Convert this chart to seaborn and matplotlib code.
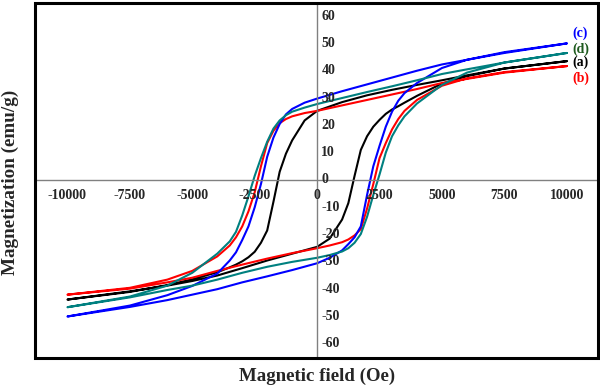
import pandas as pd
import matplotlib
matplotlib.use('Agg')
import matplotlib.pyplot as plt
import seaborn as sns
from matplotlib.patches import Rectangle

# Field values (Oe) for the descending and ascending branches
h_down = [10000, 7500, 6000, 5000, 4000, 3000, 2000, 1000, 0, -500, -1000, -1250, -1500,
          -1750, -2000, -2250, -2500, -2750, -3000, -3250, -3500, -4000, -5000, -6000, -7500, -10000]
h_up = [-10000, -7500, -6000, -5000, -4000, -3000, -2000, -1000, 0, 500, 1000, 1250, 1500,
        1750, 2000, 2250, 2500, 2750, 3000, 3250, 3500, 4000, 5000, 6000, 7500, 10000]

# Magnetization (emu/g)
a_down = [43.5, 40.8, 38.3, 36.5, 34.8, 33.0, 31.0, 28.5, 25.3, 21.8, 14.5, 9.6, 3.0,
          -8.0, -18.5, -23.0, -26.3, -28.3, -29.8, -31.0, -32.0, -33.8, -36.4, -38.5, -41.0, -43.8]
a_up = [-43.8, -40.8, -38.7, -37.0, -35.0, -32.3, -29.5, -27.0, -24.5, -21.5, -14.5, -8.5, 1.5,
        11.0, 16.0, 19.5, 22.0, 24.2, 25.8, 27.0, 28.3, 30.8, 35.3, 38.0, 40.8, 43.5]

b_down = [41.7, 39.3, 37.0, 35.5, 33.3, 31.3, 29.3, 27.3, 25.3, 24.5, 23.3, 22.3, 20.8,
          18.0, 13.5, 5.0, -4.5, -11.5, -17.0, -21.0, -24.0, -28.0, -33.3, -36.5, -39.5, -42.0]
b_up = [-42.0, -39.8, -37.5, -35.8, -33.3, -31.0, -28.8, -26.8, -25.0, -24.0, -22.8, -21.8, -20.3,
        -18.0, -10.5, -1.5, 8.0, 13.5, 18.5, 22.3, 25.3, 29.3, 34.5, 37.2, 39.5, 41.7]

c_down = [50.0, 46.5, 44.0, 42.3, 40.0, 37.5, 35.0, 32.5, 29.8, 28.3, 26.0, 24.0, 20.5,
          15.5, 8.5, -1.5, -10.0, -17.0, -22.0, -26.5, -29.5, -34.3, -38.8, -42.2, -46.0, -50.0]
c_up = [-50.0, -46.5, -44.0, -42.0, -40.0, -37.5, -35.3, -33.0, -30.5, -28.5, -25.8, -23.5, -21.0,
        -17.0, -5.5, 5.0, 12.5, 19.5, 25.0, 29.0, 31.8, 35.5, 41.0, 44.0, 46.8, 50.0]

d_down = [46.5, 43.0, 40.5, 38.8, 36.5, 34.3, 32.2, 30.0, 27.8, 26.5, 25.0, 23.7, 21.8,
          18.8, 14.0, 8.0, 1.5, -6.0, -13.0, -19.0, -22.5, -27.0, -34.0, -38.7, -42.7, -46.6]
d_up = [-46.6, -43.0, -40.3, -38.7, -36.5, -34.0, -31.8, -30.0, -28.5, -27.5, -26.2, -25.0, -23.0,
        -19.8, -13.5, -5.5, 2.0, 10.0, 16.0, 20.0, 23.3, 28.0, 34.8, 39.3, 43.0, 46.5]

samples = ['(a)', '(b)', '(c)', '(d)']
x_ticks = [-10000, -7500, -5000, -2500, 0, 2500, 5000, 7500, 10000]
y_ticks = [-60, -50, -40, -30, -20, -10, 0, 10, 20, 30, 40, 50, 60]

# one continuous path per loop: descending branch then ascending branch
loops = {'(a)': (a_down, a_up), '(b)': (b_down, b_up),
         '(c)': (c_down, c_up), '(d)': (d_down, d_up)}
frames = []
for s in samples:
    down, up = loops[s]
    frames.append(pd.DataFrame({'H': h_down + h_up, 'M': down + up, 'sample': s}))
df = pd.concat(frames, ignore_index=True)

colors = {'(a)': '#000000', '(b)': '#ff0000', '(c)': '#0000ff', '(d)': '#008080'}
label_colors = {'(a)': '#000000', '(b)': '#ff0000', '(c)': '#0000ff', '(d)': '#1e5a1e'}
label_offsets = {'(a)': (4, -1), '(b)': (4, -9), '(c)': (4, 7), '(d)': (4, 3)}

sns.set_style('white')
plt.rcParams['font.family'] = ['Liberation Serif', 'DejaVu Serif']
plt.rcParams['font.weight'] = 'bold'

fig = plt.figure(figsize=(6, 3.88), dpi=100)
ax = fig.add_axes([35 / 600, 1 - 358 / 388, 563 / 600, 355 / 388])

sns.lineplot(data=df, x='H', y='M', hue='sample', palette=colors, sort=False,
             estimator=None, linewidth=1.5, legend=False, ax=ax)

ax.set_xlim(-11300, 11250)
ax.set_ylim(-65.2, 64.8)

# axes crossing at zero
for side in ['top', 'right']:
    ax.spines[side].set_visible(False)
for side in ['left', 'bottom']:
    ax.spines[side].set_position(('data', 0))
    ax.spines[side].set_color('#808080')
    ax.spines[side].set_linewidth(1.0)
ax.set_xticks(x_ticks)
ax.set_yticks(y_ticks)
ax.tick_params(axis='both', direction='out', length=4, width=1, color='#808080',
               labelbottom=False, labelleft=False)

for v in x_ticks:
    ax.annotate(str(v), xy=(v, 0), xytext=(0, -11), textcoords='offset points',
                ha='center', va='center', fontsize=10, fontweight='bold')
for v in y_ticks:
    ax.annotate(str(v), xy=(0, v), xytext=(3, 0), textcoords='offset points',
                ha='left', va='center', fontsize=10, fontweight='bold')

# frame round the plot area
ax.add_patch(Rectangle((0, 0), 1, 1, transform=ax.transAxes, fill=False,
                       edgecolor='black', linewidth=2.2, clip_on=False, zorder=5))

# sample labels at the right end of each loop
for s in samples:
    down, up = loops[s]
    ax.annotate(s, xy=(h_up[-1], up[-1]), xytext=label_offsets[s], textcoords='offset points',
                ha='left', va='center', fontsize=10, fontweight='bold', color=label_colors[s])

ax.set_xlabel('Magnetic field (Oe)', fontsize=13.6, fontweight='bold', va='center')
ax.set_ylabel('Magnetization (emu/g)', fontsize=13.8, fontweight='bold', va='center')
ax.xaxis.set_label_coords(0.501, -0.053)
ax.yaxis.set_label_coords(-0.044, 0.496)

fig.savefig('out.png', dpi=100)
